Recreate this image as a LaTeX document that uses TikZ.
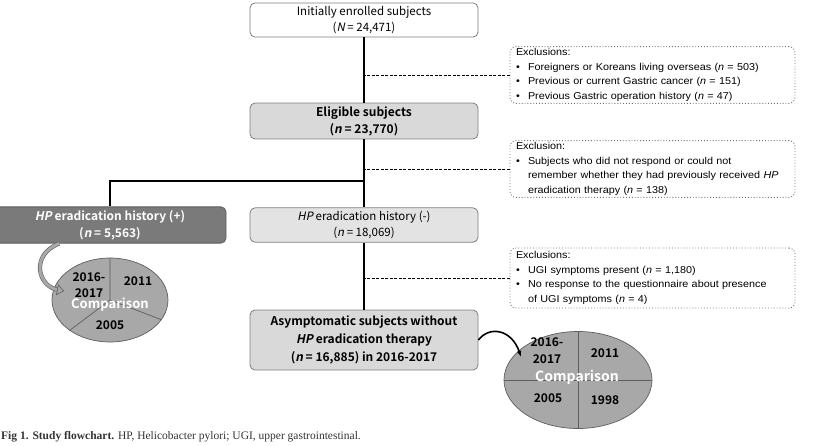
\documentclass[tikz,border=0pt]{standalone}
\usepackage{fontspec}
\setmainfont{Liberation Sans}[FakeStretch=1.08]
\newfontfamily\krfont{Noto Sans CJK KR}[ItalicFont=Noto Sans CJK KR,ItalicFeatures={FakeSlant=0.2},BoldFont=Noto Sans CJK KR Bold,BoldItalicFont=Noto Sans CJK KR Bold,BoldItalicFeatures={FakeSlant=0.2}]
\newfontfamily\capfont{Liberation Serif}
\usetikzlibrary{arrows.meta,shapes.geometric}
\definecolor{Frame}{HTML}{7F7F7F}
\definecolor{LightFill}{HTML}{D9D9D9}
\definecolor{PaleFill}{HTML}{E3E3E3}
\definecolor{DarkFill}{HTML}{7A7A7A}
\definecolor{PieFill}{HTML}{A8A8A8}
\definecolor{PieEdge}{HTML}{5E5E5E}
\newcommand\itm{\makebox[12pt][l]{\textbullet}}
\newcommand\cnt{\hspace*{12pt}}

\begin{document}
\begin{tikzpicture}[x=1pt,y=-1pt,>=Latex,
  flow/.style={draw=Frame,rounded corners=5pt,minimum width=228pt,align=center,line width=0.8pt,font=\krfont\fontsize{11.5}{16}\selectfont},
  flowbold/.style={flow,font=\krfont\bfseries\fontsize{12}{17}\selectfont},
  excl/.style={draw=black!55,dotted,line width=0.9pt,rounded corners=6pt,minimum width=285pt,text width=273pt,inner xsep=6pt,inner ysep=2pt,align=left,font=\fontsize{10}{14.5}\selectfont},
  pie/.style={ellipse,draw=PieEdge,fill=PieFill,inner sep=0pt,line width=0.7pt},
  year/.style={font=\krfont\bfseries\fontsize{12}{16}\selectfont,align=center,inner sep=0pt},
  cmp/.style={font=\krfont\bfseries\fontsize{13}{15}\selectfont,text=white,inner sep=0pt},
  trunk/.style={line width=1.6pt},
  link/.style={dash pattern=on 3pt off 1.5pt,line width=1pt}]

\useasboundingbox (0,0) rectangle (813,445);

% main column
\node[flow,fill=white,minimum height=34pt](init) at (364,20){Initially enrolled subjects\\(\textit{N} =\ 24,471)};
\node[flowbold,fill=LightFill,minimum height=32pt](elig) at (364,121){Eligible subjects\\(\textit{n} = 23,770)};
\node[flow,fill=PaleFill,minimum height=34pt](hpneg) at (364,225){\textit{HP} eradication history (-)\\(\textit{n} = 18,069)};
\node[flowbold,fill=LightFill,minimum height=60pt,font=\krfont\bfseries\fontsize{12}{18}\selectfont](asym) at (364,340){Asymptomatic subjects without\\\textit{HP} eradication therapy\\(\textit{n} = 16,885) in 2016-2017};
\node[flowbold,fill=DarkFill,draw=PieEdge,text=white,minimum width=232pt,minimum height=35pt](hppos) at (110,225){\textit{HP} eradication history (+)\\(\textit{n} = 5,563)};

% exclusions
\node[excl,minimum height=56pt](ex1) at (652.5,75){Exclusions:\\
\itm Foreigners or Koreans living overseas (\textit{n} = 503)\\
\itm Previous or current Gastric cancer (\textit{n} = 151)\\
\itm Previous Gastric operation history (\textit{n} = 47)};
\node[excl,minimum height=54pt](ex2) at (652.5,169){Exclusion:\\
\itm Subjects who did not respond or could not\\
\cnt remember whether they had previously received \textit{HP}\\
\cnt eradication therapy (\textit{n} = 138)};
\node[excl,minimum height=60pt](ex3) at (652.5,278){Exclusions:\\
\itm UGI symptoms present (\textit{n} = 1,180)\\
\itm No response to the questionnaire about presence\\
\cnt of UGI symptoms (\textit{n} = 4)};

\coordinate (split) at (364,181);
\foreach \p/\q in {init/elig,elig/hpneg,hpneg/asym}{\draw[trunk](\p)--(\q);}
\draw[trunk](split)-|(hppos);
\foreach \e in {ex1,ex2,ex3}{\draw[link](\e.west)--(\e.west -| init.south);}

% comparison pies
\node[pie,minimum width=116pt,minimum height=84pt](pieL) at (110,300){};
\draw[PieEdge,line width=0.7pt](pieL.center)--(pieL.north) (pieL.center)--(pieL.217) (pieL.center)--(pieL.-21);
\node[year](l16) at (89,285){2016-\\2017};
\node[year](l11) at (138,281){2011};
\node[cmp](lcmp) at (110,305){Comparison};
\node[year](l05) at (110,325){2005};

\node[pie,minimum width=148pt,minimum height=97pt](pieR) at (578,380){};
\draw[PieEdge,line width=0.7pt](pieR.north)--(pieR.south) (pieR.west)--(pieR.east);
\node[year,font=\krfont\bfseries\fontsize{12}{17}\selectfont](r16) at (547,351){2016-\\2017};
\node[year](r11) at (605,353){2011};
\node[cmp,font=\krfont\bfseries\fontsize{14}{16}\selectfont](rcmp) at (577,377){Comparison};
\node[year](r05) at (548,398){2005};
\node[year](r98) at (605,400){1998};

% curved arrows
\coordinate (inL) at (64,291);
\coordinate (inR) at (521,357);
\draw[draw=PieEdge,double=PieFill,double distance=3pt,line width=0.6pt,-{Triangle[length=7pt,width=11pt,fill=PieFill]}](hppos.200)..controls (30,255) and (38,286)..(inL);
\draw[line width=1.6pt,-{Latex[length=6pt]}](asym.east)..controls (490,325) and (512,330)..(inR);

\node[anchor=west,inner sep=0pt,font=\capfont\fontsize{11.5}{12}\selectfont,text=black!80](cap) at (1,437){\textbf{Fig 1. Study flowchart.} HP, Helicobacter pylori; UGI, upper gastrointestinal.};
\end{tikzpicture}
\end{document}
